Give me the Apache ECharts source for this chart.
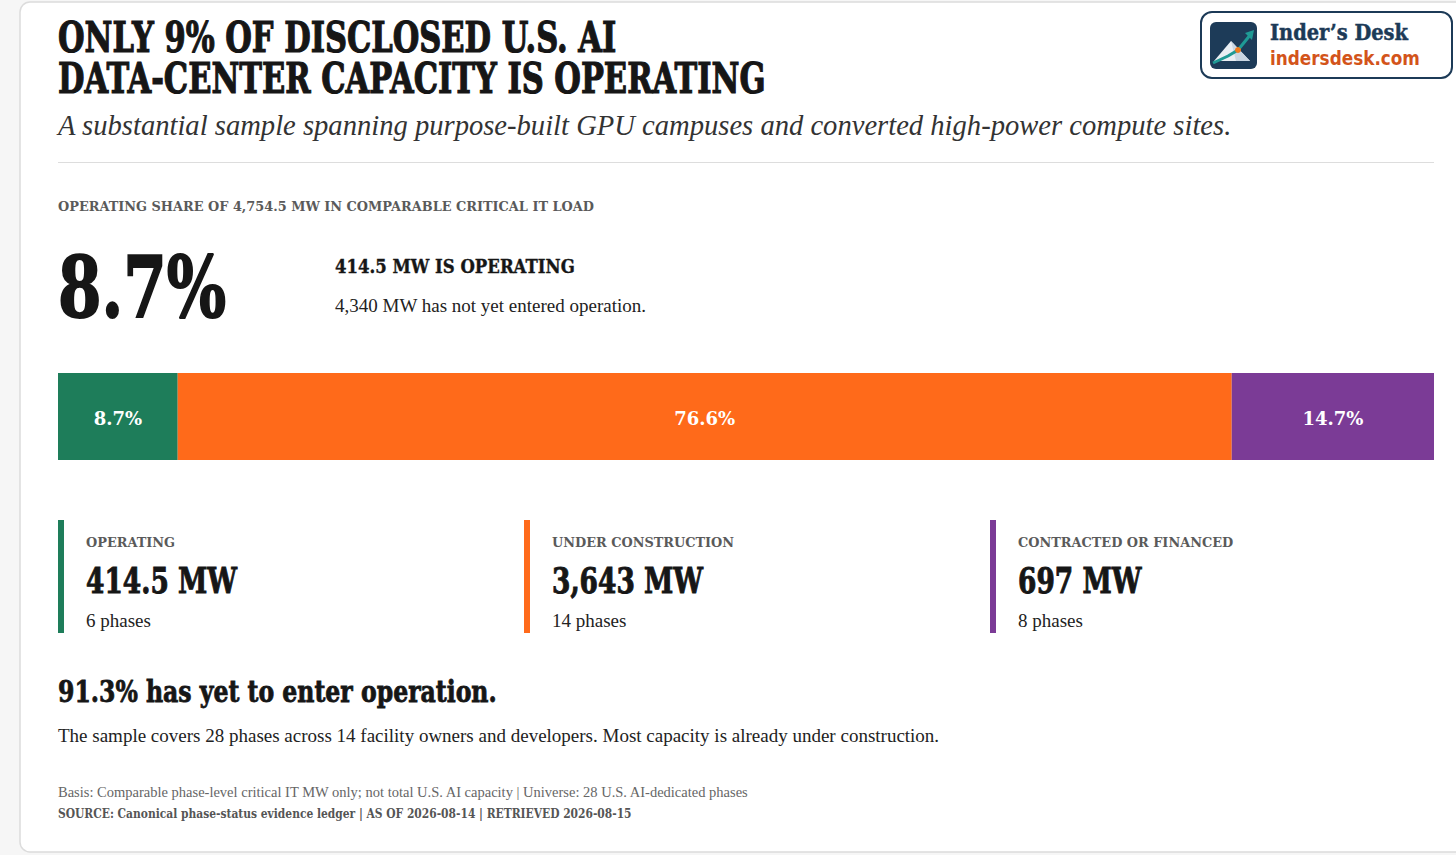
<!DOCTYPE html>
<html>
<head>
<meta charset="utf-8">
<title>Operating share of U.S. AI data-center capacity</title>
<script src="https://cdn.jsdelivr.net/npm/echarts@6/dist/echarts.min.js"></script>
<style>
    html, body { margin: 0; padding: 0; background: #f6f6f6; }
    #chart { width: 1456px; height: 855px; }
</style>
</head>
<body>
<div id="chart"></div>
<script>
// chart values
var statuses = ['OPERATING', 'UNDER CONSTRUCTION', 'CONTRACTED OR FINANCED'];
var shares = [8.7, 76.6, 14.7];
var capacityLabels = ['414.5 MW', '3,643 MW', '697 MW'];
var phaseCounts = [6, 14, 8];
var colors = ['#1e7d5a', '#ff6a1a', '#7b3b96'];

var slab = 'DejaVu Serif';
var book = 'Liberation Serif';
var sans = 'DejaVu Sans';

// text styles: [size, weight, family, fontStyle, extra stroke to thicken]
var T = {
    title: [42, 'bold', slab, 'normal', 1.2],
    sub: [28.6, 'normal', book, 'italic'],
    kicker: [13, 'bold', slab],
    big: [85, 'bold', slab, 'normal', 2],
    lead: [19, 'bold', slab, 'normal', 0.4],
    body: [19, 'normal', book],
    value: [35, 'bold', slab, 'normal', 1],
    head2: [29, 'bold', slab, 'normal', 0.8],
    note: [14.5, 'normal', book],
    source: [12, 'bold', slab],
    logo: [22, 'bold', slab, 'normal', 0.5],
    url: [19, 'bold', sans]
};

// the slab face is wider than the original one, so squeeze a style to the original width
var ctx = document.createElement('canvas').getContext('2d');
function fontOf(t) {
    return (t[3] || 'normal') + ' ' + t[1] + ' ' + t[0] + 'px "' + t[2] + '"';
}
function fit(sample, t, target) {
    ctx.font = fontOf(t);
    return target / ctx.measureText(sample).width;
}

var S = {
    title: fit('DATA-CENTER CAPACITY IS OPERATING', T.title, 708),
    kicker: fit('OPERATING SHARE OF 4,754.5 MW IN COMPARABLE CRITICAL IT LOAD', T.kicker, 536),
    big: fit('8.7%', T.big, 168),
    lead: fit('414.5 MW IS OPERATING', T.lead, 240),
    value: fit('414.5 MW', T.value, 151),
    head2: fit('91.3% has yet to enter operation.', T.head2, 439),
    source: fit('SOURCE: Canonical phase-status evidence ledger | AS OF 2026-08-14 | RETRIEVED 2026-08-15', T.source, 574),
    logo: fit('Inder\u2019s Desk', T.logo, 138),
    url: fit('indersdesk.com', T.url, 150)
};

function txt(text, x, y, t, fill, scaleX) {
    var style = {
        text: text,
        fontSize: t[0],
        fontWeight: t[1],
        fontFamily: t[2],
        fontStyle: t[3] || 'normal',
        fill: fill,
        textAlign: 'left',
        textVerticalAlign: 'middle'
    };
    if (t[4]) {
        style.stroke = fill;
        style.lineWidth = t[4];
    }
    return { type: 'text', x: x, y: y, scaleX: scaleX || 1, style: style };
}

var graphics = [
    // card
    {
        type: 'rect', z: -10,
        shape: { x: 20, y: 2, width: 1460, height: 850, r: 10 },
        style: { fill: '#ffffff', stroke: '#dcdcdc', lineWidth: 1.5 }
    },
    txt('ONLY 9% OF DISCLOSED U.S. AI', 58, 38, T.title, '#161616', S.title),
    txt('DATA-CENTER CAPACITY IS OPERATING', 58, 79, T.title, '#161616', S.title),
    txt('A substantial sample spanning purpose-built GPU campuses and converted high-power compute sites.',
        58, 125, T.sub, '#333333'),
    {
        type: 'line',
        shape: { x1: 58, y1: 162.5, x2: 1434, y2: 162.5 },
        style: { stroke: '#dddddd', lineWidth: 1 }
    },
    txt('OPERATING SHARE OF 4,754.5 MW IN COMPARABLE CRITICAL IT LOAD', 58, 206, T.kicker, '#5a5a5a', S.kicker),
    txt(shares[0] + '%', 58, 287, T.big, '#161616', S.big),
    txt(capacityLabels[0] + ' IS OPERATING', 335, 266, T.lead, '#161616', S.lead),
    txt('4,340 MW has not yet entered operation.', 335, 305, T.body, '#222222'),
    txt('91.3% has yet to enter operation.', 58, 692, T.head2, '#161616', S.head2),
    txt('The sample covers 28 phases across 14 facility owners and developers. Most capacity is already under construction.',
        58, 735, T.body, '#222222'),
    txt('Basis: Comparable phase-level critical IT MW only; not total U.S. AI capacity | Universe: 28 U.S. AI-dedicated phases',
        58, 792, T.note, '#666666'),
    txt('SOURCE: Canonical phase-status evidence ledger | AS OF 2026-08-14 | RETRIEVED 2026-08-15',
        58, 814, T.source, '#555555', S.source),

    // logo badge
    {
        type: 'rect',
        shape: { x: 1201, y: 12, width: 251, height: 66, r: 11 },
        style: { fill: '#ffffff', stroke: '#1c3a57', lineWidth: 2 }
    },
    {
        type: 'rect',
        shape: { x: 1210, y: 22, width: 47, height: 47, r: 6 },
        style: { fill: '#1d3b58' }
    },
    {
        type: 'polygon',
        shape: { points: [[1214, 61], [1231, 41], [1250, 61]] },
        style: { fill: '#e9eef3' }
    },
    {
        type: 'polygon',
        shape: { points: [[1231, 41], [1250, 61], [1236, 61]] },
        style: { fill: '#c9d6e2' }
    },
    {
        type: 'polyline',
        shape: { points: [[1213, 63], [1228, 56], [1238, 50], [1251, 34]] },
        style: { stroke: '#1f9a95', lineWidth: 3, fill: null }
    },
    {
        type: 'polygon',
        shape: { points: [[1254, 30], [1245, 33], [1252, 40]] },
        style: { fill: '#1f9a95' }
    },
    {
        type: 'circle',
        shape: { cx: 1238, cy: 50, r: 3 },
        style: { fill: '#f07a1c' }
    },
    txt('Inder\u2019s Desk', 1270, 33, T.logo, '#1c3a57', S.logo),
    txt('indersdesk.com', 1270, 58, T.url, '#d3541a', S.url)
];

// status cards below the bar
statuses.forEach(function (name, i) {
    var left = 58 + i * 466;
    graphics.push({
        type: 'rect',
        shape: { x: left, y: 520, width: 6, height: 113 },
        style: { fill: colors[i] }
    });
    graphics.push(txt(name, left + 28, 542, T.kicker, '#5a5a5a', S.kicker));
    graphics.push(txt(capacityLabels[i], left + 28, 581, T.value, '#161616', S.value));
    graphics.push(txt(phaseCounts[i] + ' phases', left + 28, 620, T.body, '#222222'));
});

var series = statuses.map(function (name, i) {
    return {
        name: name,
        type: 'bar',
        stack: 'share',
        barWidth: 87,
        silent: true,
        itemStyle: { color: colors[i] },
        label: {
            show: true,
            position: 'inside',
            offset: [0, 2],
            color: '#ffffff',
            fontFamily: slab,
            fontWeight: 'bold',
            fontSize: 18,
            formatter: function (p) { return p.value + '%'; }
        },
        data: [shares[i]]
    };
});

var myChart = echarts.init(document.getElementById('chart'), null, { renderer: 'svg' });
myChart.setOption({
    backgroundColor: '#f6f6f6',
    animation: false,
    grid: { left: 58, top: 373, width: 1376, height: 87 },
    xAxis: { type: 'value', min: 0, max: 100, show: false },
    yAxis: { type: 'category', data: ['share'], show: false },
    series: series,
    graphic: { elements: graphics }
});
</script>
</body>
</html>
